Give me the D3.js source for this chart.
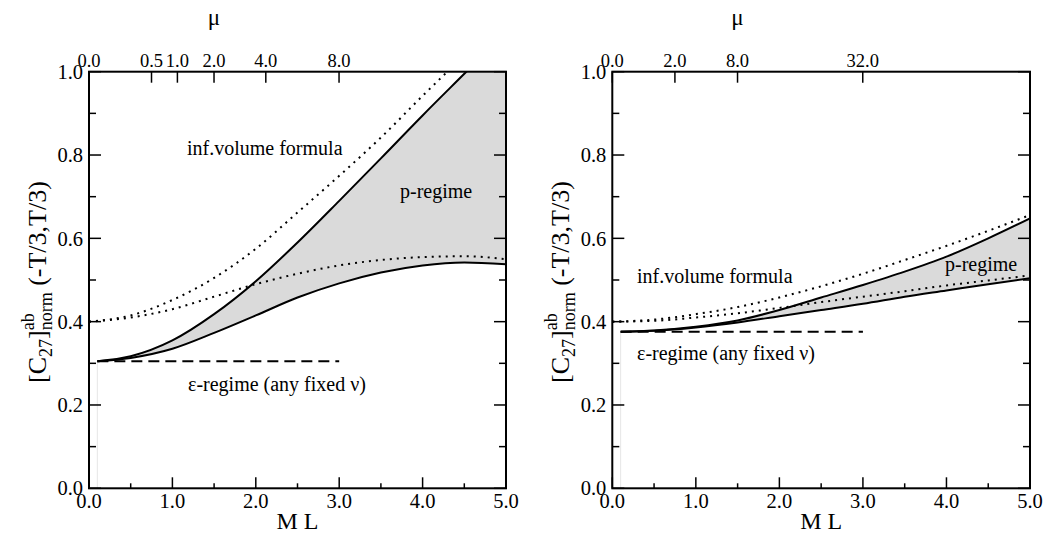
<!DOCTYPE html>
<html>
<head>
<meta charset="utf-8">
<script src="https://cdn.jsdelivr.net/npm/d3@7"></script>
<style>
body { margin: 0; background: #fff; }
text { font-family: "Liberation Serif", "Times New Roman", serif; fill: #000; }
</style>
</head>
<body>
<script>
// M L grid: solid curves start at 0.1, dotted ones at 0
const mlSolid = [0.1, 0.5, 1.0, 1.5, 2.0, 2.5, 3.0, 3.5, 4.0, 4.5, 5.0];
const mlDotted = [0.0, 0.5, 1.0, 1.5, 2.0, 2.5, 3.0, 3.5, 4.0, 4.5, 5.0];

// left panel
const leftUpperSolid  = [0.305, 0.317, 0.355, 0.418, 0.497, 0.590, 0.690, 0.792, 0.895, 0.995, 1.095];
const leftLowerSolid  = [0.305, 0.313, 0.335, 0.373, 0.415, 0.458, 0.492, 0.518, 0.535, 0.542, 0.538];
const leftUpperDotted = [0.400, 0.415, 0.452, 0.505, 0.575, 0.662, 0.750, 0.842, 0.942, 1.040, 1.140];
const leftLowerDotted = [0.400, 0.410, 0.430, 0.460, 0.490, 0.515, 0.535, 0.548, 0.555, 0.557, 0.550];
const leftEps = 0.305;

// right panel
const rightUpperSolid  = [0.376, 0.379, 0.388, 0.403, 0.428, 0.458, 0.488, 0.520, 0.556, 0.600, 0.648];
const rightLowerSolid  = [0.376, 0.378, 0.386, 0.398, 0.413, 0.428, 0.443, 0.460, 0.475, 0.490, 0.504];
const rightUpperDotted = [0.400, 0.405, 0.418, 0.435, 0.458, 0.485, 0.515, 0.548, 0.582, 0.618, 0.656];
const rightLowerDotted = [0.400, 0.402, 0.410, 0.420, 0.433, 0.447, 0.460, 0.473, 0.487, 0.499, 0.511];
const rightEps = 0.376;

const xTicks = [0, 1, 2, 3, 4, 5];
const yTicks = [0, 0.2, 0.4, 0.6, 0.8, 1.0];
const leftMuTicks = [0, 0.5, 1, 2, 4, 8];
const rightMuTicks = [0, 2, 8, 32];
// mu = c * (M L)^2
const leftMuC = 0.89;
const rightMuC = 3.56;

const W = 1045, H = 533;
const plotTop = 71.7, plotBottom = 488.3;
const fmt = d3.format(".1f");

const svg = d3.select("body").append("svg").attr("width", W).attr("height", H);

function drawPanel(left, right, upS, loS, upD, loD, eps, muTicks, muC, id) {
	const x = d3.scaleLinear().domain([0, 5]).range([left, right]);
	const y = d3.scaleLinear().domain([0, 1]).range([plotBottom, plotTop]);
	const xMu = d3.scalePow().exponent(0.5).domain([0, 25 * muC]).range([left, right]);

	svg.append("clipPath").attr("id", id).append("rect")
		.attr("x", left).attr("y", plotTop).attr("width", right - left).attr("height", plotBottom - plotTop);
	const g = svg.append("g").attr("clip-path", `url(#${id})`);

	const solidPts = mlSolid.map((m, i) => ({ m, u: upS[i], l: loS[i] }));

	// shaded p-regime band
	g.append("path")
		.datum(solidPts)
		.attr("d", d3.area().curve(d3.curveMonotoneX).x(d => x(d.m)).y0(d => y(d.l)).y1(d => y(d.u)))
		.attr("fill", "#dadada");

	// faint edge at M L = 0.1
	g.append("line")
		.attr("x1", x(mlSolid[0])).attr("x2", x(mlSolid[0]))
		.attr("y1", y(0)).attr("y2", y(eps))
		.attr("stroke", "#e6e6e6").attr("stroke-width", 1);

	const line = d3.line().curve(d3.curveMonotoneX).x(d => x(d[0])).y(d => y(d[1]));

	[upD, loD].forEach(arr => {
		g.append("path")
			.datum(mlDotted.map((m, i) => [m, arr[i]]))
			.attr("d", line)
			.attr("fill", "none").attr("stroke", "#000").attr("stroke-width", 2)
			.attr("stroke-dasharray", "2,5");
	});

	[upS, loS].forEach(arr => {
		g.append("path")
			.datum(mlSolid.map((m, i) => [m, arr[i]]))
			.attr("d", line)
			.attr("fill", "none").attr("stroke", "#000").attr("stroke-width", 2);
	});

	// epsilon regime dashed line
	g.append("path")
		.datum([[0.1, eps], [3.0, eps]])
		.attr("d", line)
		.attr("fill", "none").attr("stroke", "#000").attr("stroke-width", 2)
		.attr("stroke-dasharray", "11,6");

	// frame
	svg.append("rect")
		.attr("x", left).attr("y", plotTop).attr("width", right - left).attr("height", plotBottom - plotTop)
		.attr("fill", "none").attr("stroke", "#000").attr("stroke-width", 2);

	// bottom ticks
	d3.range(0, 5.01, 0.5).forEach(v => {
		const major = Math.abs(v - Math.round(v)) < 1e-6;
		svg.append("line").attr("x1", x(v)).attr("x2", x(v))
			.attr("y1", plotBottom).attr("y2", plotBottom - (major ? 11 : 5))
			.attr("stroke", "#000").attr("stroke-width", 1.5);
	});
	xTicks.forEach(v => {
		svg.append("text").attr("x", x(v)).attr("y", plotBottom + 20)
			.attr("text-anchor", "middle").attr("font-size", 20.5).text(fmt(v));
	});

	// left and right ticks
	d3.range(0, 1.001, 0.1).forEach(v => {
		const major = Math.abs(v * 5 - Math.round(v * 5)) < 1e-6;
		const len = major ? 12 : 7;
		svg.append("line").attr("x1", left).attr("x2", left + len)
			.attr("y1", y(v)).attr("y2", y(v)).attr("stroke", "#000").attr("stroke-width", 1.5);
		svg.append("line").attr("x1", right).attr("x2", right - len)
			.attr("y1", y(v)).attr("y2", y(v)).attr("stroke", "#000").attr("stroke-width", 1.5);
	});
	yTicks.forEach(v => {
		svg.append("text").attr("x", left - 6).attr("y", y(v)).attr("dy", "0.35em")
			.attr("text-anchor", "end").attr("font-size", 20.5).text(fmt(v));
	});

	// top mu axis
	muTicks.forEach(v => {
		svg.append("line").attr("x1", xMu(v)).attr("x2", xMu(v))
			.attr("y1", plotTop).attr("y2", plotTop + 11).attr("stroke", "#000").attr("stroke-width", 1.5);
		svg.append("text").attr("x", xMu(v)).attr("y", plotTop - 5)
			.attr("text-anchor", "middle").attr("font-size", 18.5).text(fmt(v));
	});

	svg.append("text").attr("x", left + 125).attr("y", 25)
		.attr("text-anchor", "middle").attr("font-size", 23).text("μ");
	svg.append("text").attr("x", (left + right) / 2).attr("y", 529)
		.attr("text-anchor", "middle").attr("font-size", 24).text("M L");

	// y label
	const yl = svg.append("text")
		.attr("transform", `translate(${left - 43},383) rotate(-90)`)
		.attr("font-size", 26);
	yl.append("tspan").text("[C");
	yl.append("tspan").attr("font-size", 18).attr("dy", 6).text("27");
	yl.append("tspan").attr("dy", -6).text("]");
	const ab = yl.append("tspan").attr("font-size", 18).attr("dy", -12).text("ab");
	const abW = ab.node().getComputedTextLength();
	yl.append("tspan").attr("font-size", 18).attr("dx", -abW).attr("dy", 18).text("norm");
	yl.append("tspan").attr("dy", -6).text(" (-T/3,T/3)");

	return x;
}

drawPanel(89, 506, leftUpperSolid, leftLowerSolid, leftUpperDotted, leftLowerDotted,
	leftEps, leftMuTicks, leftMuC, "clipL");
drawPanel(612.3, 1030, rightUpperSolid, rightLowerSolid, rightUpperDotted, rightLowerDotted,
	rightEps, rightMuTicks, rightMuC, "clipR");

// in-plot annotations
const notes = [
	{ x: 187, y: 155, t: "inf.volume formula" },
	{ x: 400, y: 198, t: "p-regime" },
	{ x: 188, y: 391, t: "ε-regime (any fixed ν)" },
	{ x: 637, y: 283, t: "inf.volume formula" },
	{ x: 945, y: 271, t: "p-regime" },
	{ x: 637, y: 360, t: "ε-regime (any fixed ν)" }
];
svg.selectAll("text.note").data(notes).enter().append("text")
	.attr("class", "note")
	.attr("x", d => d.x).attr("y", d => d.y)
	.attr("font-size", 20).text(d => d.t);
</script>
</body>
</html>
